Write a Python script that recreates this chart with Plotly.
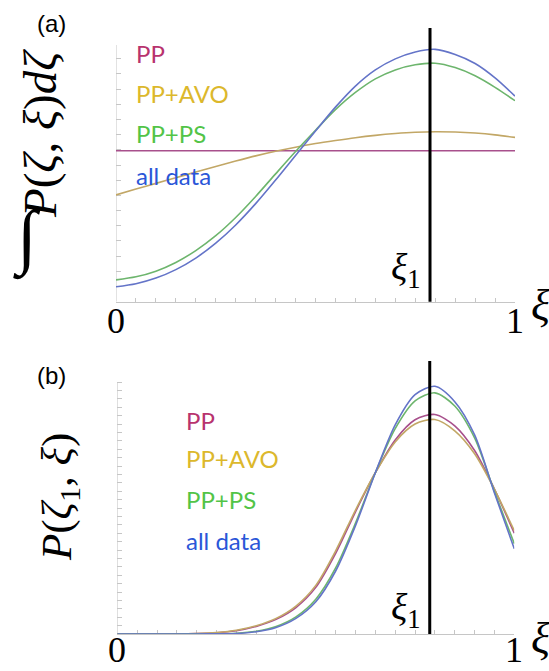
import plotly.graph_objects as go

W, H = 549, 671

# ---------------- data ----------------
XI = [0.0, 0.05, 0.10, 0.15, 0.20, 0.25, 0.30, 0.35, 0.40, 0.45, 0.50,
      0.55, 0.60, 0.65, 0.70, 0.75, 0.80, 0.85, 0.90, 0.95, 1.0]
XI1 = 0.787

SERIES = ["PP", "PP+AVO", "PP+PS", "all data"]

A_PP = [0.588, 0.588, 0.588, 0.588, 0.588, 0.588, 0.588, 0.588, 0.588, 0.588, 0.588,
        0.588, 0.588, 0.588, 0.588, 0.588, 0.588, 0.588, 0.588, 0.588, 0.588]
A_AVO = [0.416, 0.439, 0.461, 0.483, 0.505, 0.527, 0.548, 0.568, 0.586, 0.602, 0.616,
         0.628, 0.639, 0.648, 0.655, 0.660, 0.662, 0.661, 0.657, 0.650, 0.640]
A_PS = [0.085, 0.097, 0.119, 0.153, 0.199, 0.257, 0.328, 0.410, 0.498, 0.585, 0.668,
        0.748, 0.815, 0.868, 0.903, 0.923, 0.929, 0.912, 0.880, 0.835, 0.783]
A_ALL = [0.058, 0.070, 0.092, 0.125, 0.170, 0.228, 0.299, 0.382, 0.474, 0.570, 0.665,
         0.758, 0.840, 0.903, 0.946, 0.973, 0.983, 0.963, 0.928, 0.872, 0.801]

B_PP = [0.0, 0.0, 0.0, 0.001, 0.002, 0.005, 0.013, 0.030, 0.058, 0.105, 0.185,
        0.320, 0.485, 0.640, 0.770, 0.850, 0.871, 0.826, 0.728, 0.575, 0.400]
B_AVO = [0.0, 0.0, 0.0, 0.001, 0.002, 0.006, 0.015, 0.033, 0.062, 0.111, 0.193,
         0.330, 0.492, 0.640, 0.762, 0.833, 0.851, 0.806, 0.715, 0.574, 0.410]
B_PS = [0.0, 0.0, 0.0, 0.0, 0.001, 0.001, 0.003, 0.011, 0.030, 0.068, 0.138,
        0.262, 0.440, 0.640, 0.815, 0.925, 0.957, 0.905, 0.778, 0.565, 0.358]
B_ALL = [0.0, 0.0, 0.0, 0.0, 0.0, 0.001, 0.002, 0.009, 0.026, 0.062, 0.128,
         0.250, 0.430, 0.640, 0.830, 0.950, 0.983, 0.922, 0.790, 0.560, 0.338]

X_TICKS = [i / 20 for i in range(21)]
X_TICK_LABELS = ["0", "1"]
X_TICK_LABEL_POS = [0.0, 1.0]
A_Y_TICKS = [i * 0.05917 for i in range(17)]
B_Y_TICKS = [i / 30 for i in range(31)]

# ---------------- style ----------------
LINE_COLORS = ["#a8508c", "#c2a766", "#6db56d", "#6474c8"]
TEXT_COLORS = ["#b8336e", "#dcb82c", "#52c447", "#2a56d8"]
AXIS_GRAY = "#c6c6c6"
SERIF = "Liberation Serif"


def px_x(p):
    return p / W


def px_y(p):
    return 1 - p / H


fig = go.Figure()

for ys, col, name in zip([A_PP, A_AVO, A_PS, A_ALL], LINE_COLORS, SERIES):
    fig.add_trace(go.Scatter(x=XI, y=ys, mode="lines", name=name,
                             line=dict(color=col, width=1.6, shape="spline", smoothing=0.8),
                             xaxis="x", yaxis="y", showlegend=False, cliponaxis=False))
for ys, col, name in zip([B_PP, B_AVO, B_PS, B_ALL], LINE_COLORS, SERIES):
    fig.add_trace(go.Scatter(x=XI, y=ys, mode="lines", name=name,
                             line=dict(color=col, width=1.6, shape="spline", smoothing=0.8),
                             xaxis="x2", yaxis="y2", showlegend=False, cliponaxis=False))

A_TOP = (301.7 - 28) / 256.7
B_TOP = (634 - 361) / 252.0

xcommon = dict(range=[0, 1], showline=True, linecolor=AXIS_GRAY, linewidth=1,
               ticks="inside", ticklen=4, tickcolor=AXIS_GRAY, tickwidth=1,
               tickvals=X_TICKS, showticklabels=False,
               showgrid=False, zeroline=False, layer="below traces")
ycommon = dict(showline=False, ticks="inside", ticklen=5, tickcolor=AXIS_GRAY,
               tickwidth=1, showticklabels=False, showgrid=False, zeroline=False,
               layer="below traces")

fig.update_layout(
    width=W, height=H, margin=dict(l=0, r=0, t=0, b=0),
    paper_bgcolor="white", plot_bgcolor="white",
    xaxis=dict(domain=[px_x(116), px_x(515)], anchor="y", **xcommon),
    yaxis=dict(domain=[px_y(301.7), px_y(28)], range=[0, A_TOP], anchor="x",
               tickvals=A_Y_TICKS, **ycommon),
    xaxis2=dict(domain=[px_x(117.3), px_x(514.3)], anchor="y2", **xcommon),
    yaxis2=dict(domain=[px_y(634), px_y(361)], range=[0, B_TOP], anchor="x2",
                tickvals=B_Y_TICKS, **ycommon),
)

# y-axis lines and xi_1 lines
fig.add_shape(type="line", xref="x", yref="y", x0=0, x1=0, y0=0, y1=1,
              line=dict(color=AXIS_GRAY, width=1), layer="below")
fig.add_shape(type="line", xref="x2", yref="y2", x0=0, x1=0, y0=0, y1=1,
              line=dict(color=AXIS_GRAY, width=1), layer="below")
fig.add_shape(type="line", xref="x", yref="y domain", x0=XI1, x1=XI1, y0=0, y1=1,
              line=dict(color="black", width=3))
fig.add_shape(type="line", xref="x2", yref="y2 domain", x0=XI1, x1=XI1, y0=0, y1=1,
              line=dict(color="black", width=3))

ann = []
# x tick labels (0 and 1)
for v, t in zip(X_TICK_LABEL_POS, X_TICK_LABELS):
    ann.append(dict(text=t, x=v, xref="x", y=px_y(321),
                    font=dict(family=SERIF, size=36, color="black")))
    ann.append(dict(text=t, x=v, xref="x2", y=0.0, yanchor="bottom", borderpad=0,
                    font=dict(family=SERIF, size=36, color="black")))

# panel letters
ann.append(dict(text="(a)", x=px_x(51), y=px_y(24), font=dict(family="Liberation Sans", size=24, color="black")))
ann.append(dict(text="(b)", x=px_x(51), y=px_y(375), font=dict(family="Liberation Sans", size=24, color="black")))

# series labels
for i, (name, col) in enumerate(zip(SERIES, TEXT_COLORS)):
    ann.append(dict(text=name, x=px_x(134), y=px_y([53, 93, 134, 175][i]), xanchor="left",
                    font=dict(family="Lato", size=24, color=col)))
    ann.append(dict(text=name, x=px_x(184), y=px_y([420, 458, 499, 540][i]), xanchor="left",
                    font=dict(family="Lato", size=24, color=col)))

# xi_1 labels
for yc in [270, 610]:
    ann.append(dict(text="<i>ξ</i><sub>1</sub>", x=px_x(423), y=px_y(yc), xanchor="right",
                    font=dict(family=SERIF, size=38, color="black")))

# axis xi labels
for yc in [305, 638]:
    ann.append(dict(text="<i>ξ</i>", x=px_x(529), y=px_y(yc), xanchor="left",
                    font=dict(family=SERIF, size=44, color="black")))

# y titles
ann.append(dict(text="<i>∫</i>", x=px_x(27), y=px_y(238),
                font=dict(family=SERIF, size=72, color="black")))
ann.append(dict(text="<i>P</i>(<i>ζ</i>, <i>ξ</i>)<i>dζ</i>", x=px_x(40), y=px_y(134),
                textangle=-90, font=dict(family=SERIF, size=47, color="black")))
ann.append(dict(text="<i>P</i>(<i>ζ</i><sub>1</sub>, <i>ξ</i>)", x=px_x(60), y=px_y(497),
                textangle=-90, font=dict(family=SERIF, size=43, color="black")))

for a in ann:
    a.setdefault("xref", "paper")
    a.setdefault("yref", "paper")
    a.setdefault("xanchor", "center")
    a.setdefault("yanchor", "middle")
    a["showarrow"] = False
    fig.add_annotation(**a)

fig.write_html("out.html")
